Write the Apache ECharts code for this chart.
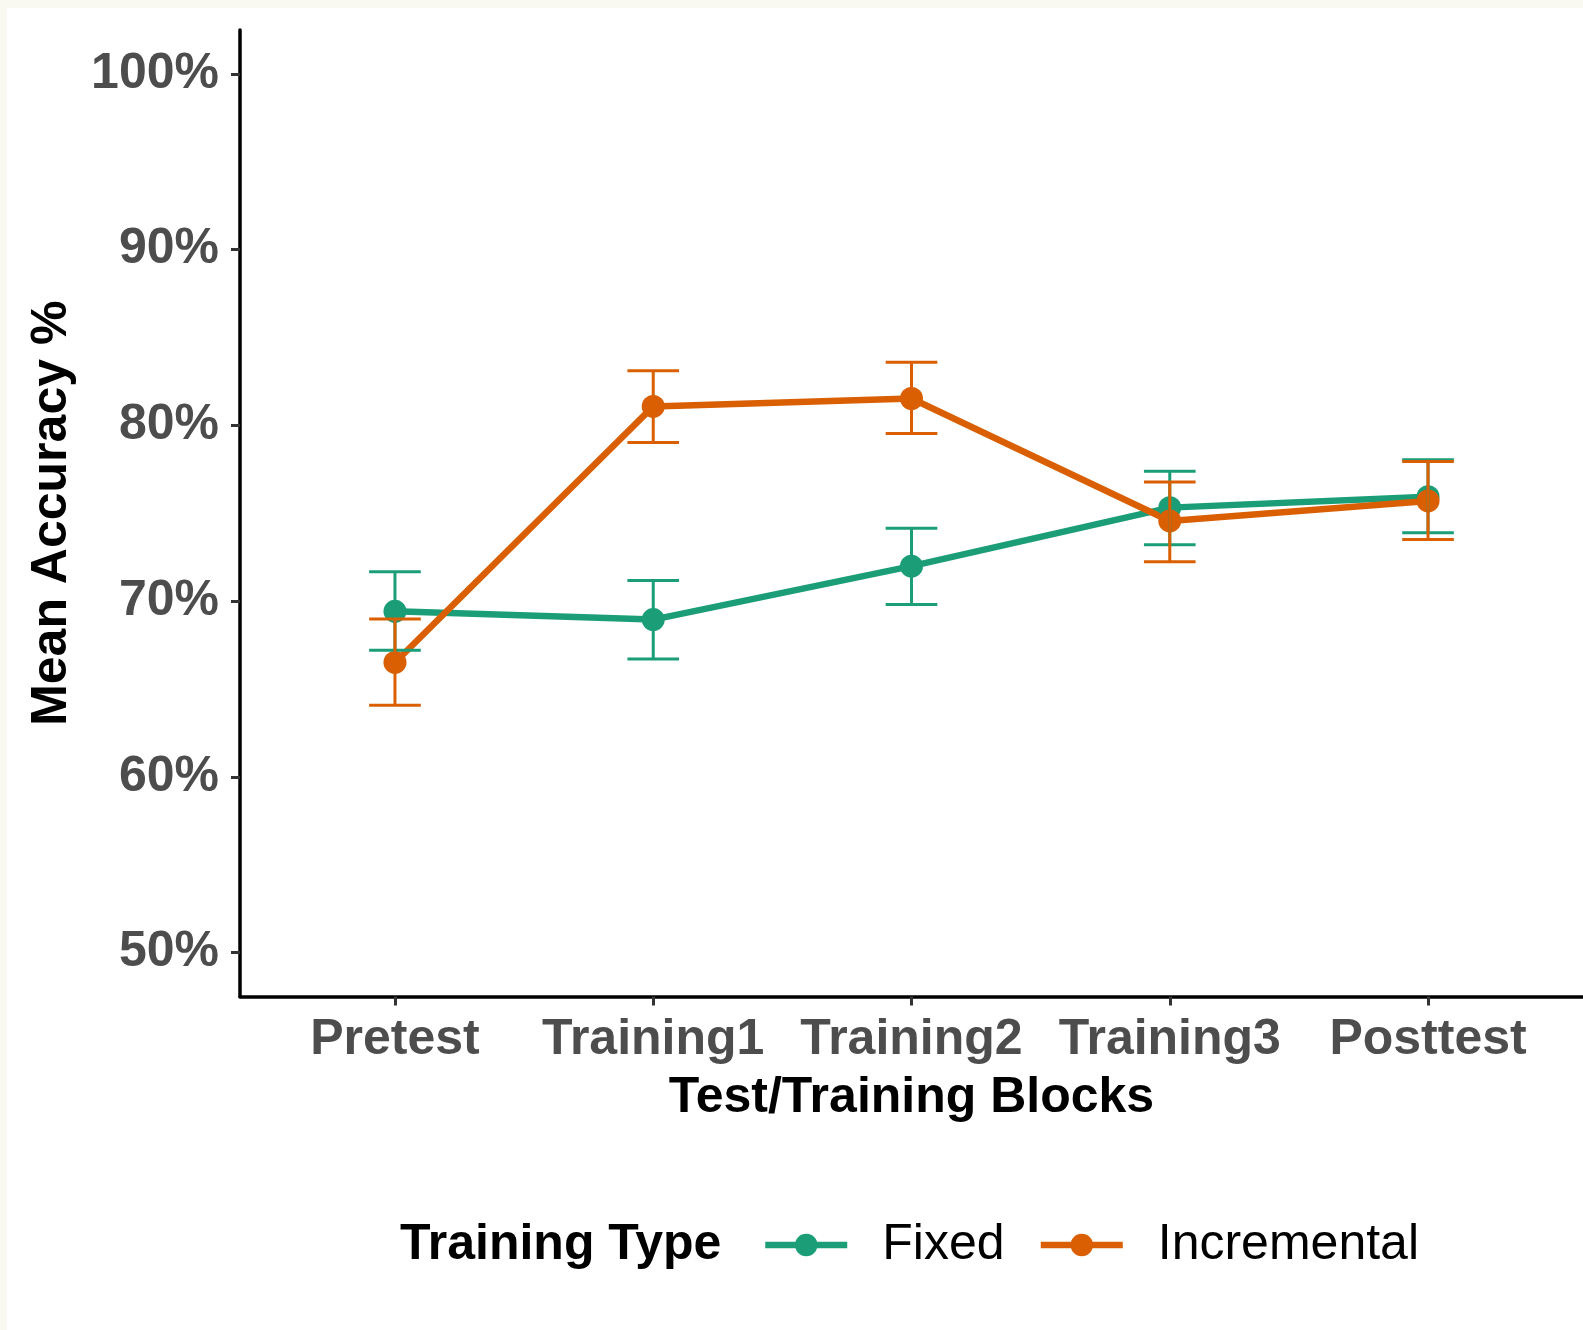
<!DOCTYPE html>
<html><head><meta charset="utf-8">
<script src="https://cdn.jsdelivr.net/npm/echarts@6/dist/echarts.min.js"></script>
<style>
html,body{margin:0;padding:0;background:#f9f9f1;width:1583px;height:1330px;overflow:hidden}
#chart{position:absolute;left:7px;top:8px;width:1576px;height:1322px;background:#fff}
</style></head><body><div id="chart"></div>
<script>
const categories = ['Pretest', 'Training1', 'Training2', 'Training3', 'Posttest'];
const yTicks = [50, 60, 70, 80, 90, 100];
const fixedMean = [69.42, 68.95, 71.99, 75.32, 75.94];
const fixedLow  = [67.20, 66.70, 69.81, 73.21, 73.89];
const fixedHigh = [71.67, 71.18, 74.14, 77.39, 78.04];
const incMean = [66.51, 81.08, 81.53, 74.56, 75.70];
const incLow  = [64.08, 79.02, 79.54, 72.24, 73.51];
const incHigh = [68.98, 83.11, 83.59, 76.78, 77.94];
const seriesNames = ['Fixed', 'Incremental'];
const colors = ['#1b9e77', '#d95f02'];

const FONT = 'Liberation Sans, Arial, sans-serif';
const xIdx = categories.map((c, i) => i);

function errRender(color) {
  return function (params, api) {
    const x = api.value(0), lo = api.value(1), hi = api.value(2);
    const pLo = api.coord([x, lo]), pHi = api.coord([x, hi]);
    const hw = api.size([0.1, 0])[0];
    const style = { stroke: color, lineWidth: 3 };
    return { type: 'group', children: [
      { type: 'line', shape: { x1: pLo[0], y1: pLo[1], x2: pHi[0], y2: pHi[1] }, style },
      { type: 'line', shape: { x1: pHi[0] - hw, y1: pHi[1], x2: pHi[0] + hw, y2: pHi[1] }, style },
      { type: 'line', shape: { x1: pLo[0] - hw, y1: pLo[1], x2: pLo[0] + hw, y2: pLo[1] }, style }
    ] };
  };
}

const means = [fixedMean, incMean], lows = [fixedLow, incLow], highs = [fixedHigh, incHigh];
const series = [];
seriesNames.forEach((name, s) => {
  series.push({
    name, type: 'line', z: 2,
    data: xIdx.map(i => [i, means[s][i]]),
    symbol: 'circle', symbolSize: 23, showSymbol: true,
    lineStyle: { color: colors[s], width: 6.5 },
    itemStyle: { color: colors[s] },
    emphasis: { disabled: true }
  });
});
seriesNames.forEach((name, s) => {
  series.push({
    name: name + ' SE', type: 'custom', z: 3,
    renderItem: errRender(colors[s]),
    encode: { x: 0, y: [1, 2] },
    data: xIdx.map(i => [i, lows[s][i], highs[s][i]])
  });
});

const chart = echarts.init(document.getElementById('chart'), null, { renderer: 'canvas' });
chart.setOption({
  animation: false,
  backgroundColor: '#fff',
  grid: { left: 233, top: 22, right: 0, bottom: 333.5, containLabel: false },
  title: {
    text: 'Training Type', left: 393, top: 1212, padding: 0,
    textStyle: { fontSize: 50, fontWeight: 'bold', color: '#000', fontFamily: FONT }
  },
  legend: {
    data: seriesNames, left: 755, top: 1212, padding: 0,
    itemWidth: 82, itemHeight: 28, itemGap: 33,
    lineStyle: { width: 6.5 },
    textStyle: { fontSize: 50, color: '#000', fontFamily: FONT, padding: [0, 0, 0, 30] }
  },
  xAxis: {
    type: 'value', min: -0.6, max: 4.6,
    name: 'Test/Training Blocks', nameLocation: 'middle', nameGap: 77,
    nameTextStyle: { fontSize: 50, fontWeight: 'bold', color: '#000', fontFamily: FONT },
    axisLine: { show: true, onZero: false, lineStyle: { color: '#000', width: 3.5 } },
    axisTick: { show: true, customValues: xIdx, length: 9, lineStyle: { color: '#333', width: 3 } },
    axisLabel: { customValues: xIdx, formatter: v => categories[Math.round(v)], fontSize: 50, fontWeight: 'bold', color: '#4d4d4d', fontFamily: FONT, margin: 19 },
    splitLine: { show: false }
  },
  yAxis: {
    type: 'value', min: 47.5, max: 102.5,
    name: 'Mean Accuracy %', nameLocation: 'middle', nameGap: 163, nameRotate: 90,
    nameTextStyle: { fontSize: 50, fontWeight: 'bold', color: '#000', fontFamily: FONT },
    axisLine: { show: true, onZero: false, lineStyle: { color: '#000', width: 3.5 } },
    axisTick: { show: true, customValues: yTicks, length: 9, lineStyle: { color: '#333', width: 3 } },
    axisLabel: { customValues: yTicks, formatter: v => v + '%', fontSize: 50, fontWeight: 'bold', color: '#4d4d4d', fontFamily: FONT, margin: 21 },
    splitLine: { show: false }
  },
  series
});
</script></body></html>
